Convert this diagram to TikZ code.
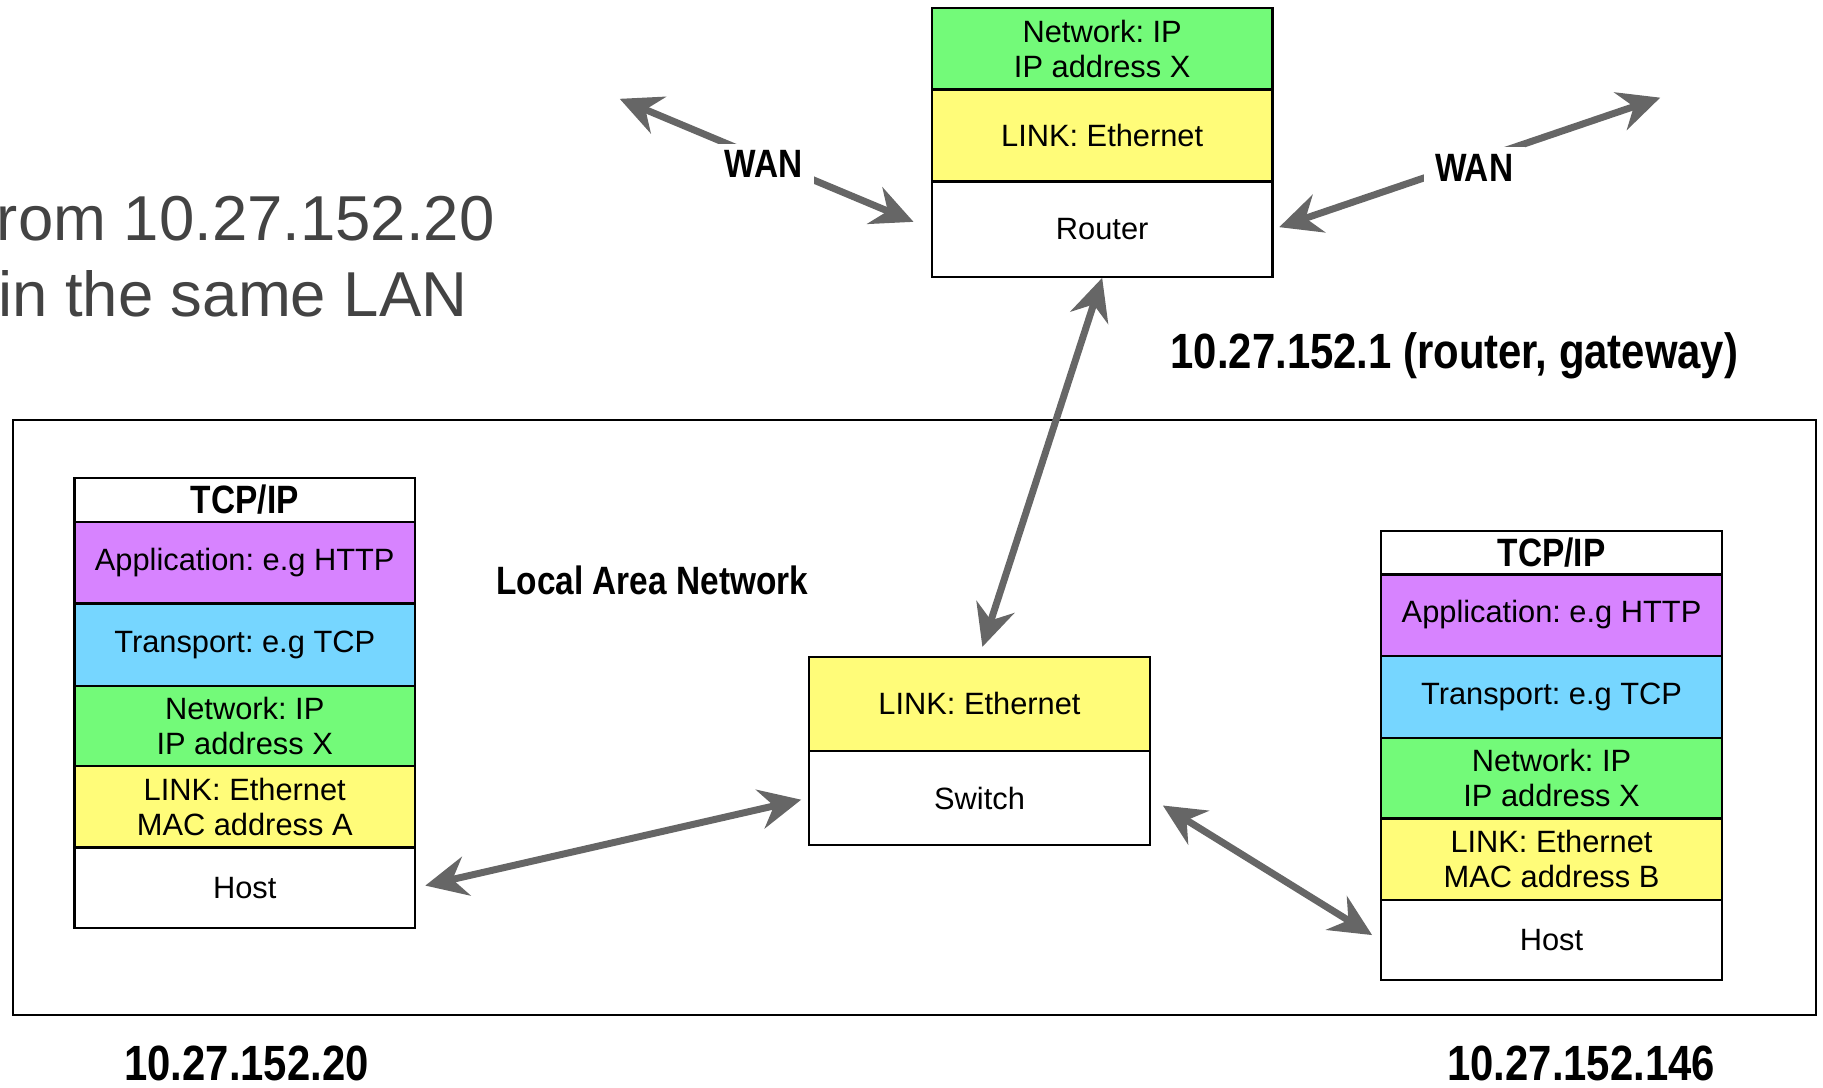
\documentclass[tikz,border=0pt]{standalone}
\usepackage{fontspec}
\setmainfont{Liberation Sans}
\newfontfamily\condfont[FakeStretch=0.845]{Liberation Sans}
\usetikzlibrary{arrows.meta}
\frenchspacing

\definecolor{appc}{HTML}{D783FF}
\definecolor{trc}{HTML}{76D6FF}
\definecolor{netc}{HTML}{73FA79}
\definecolor{linkc}{HTML}{FFFC79}
\definecolor{arrowgray}{HTML}{666666}
\definecolor{graytext}{HTML}{434343}

\tikzset{
  layer/.style={draw=black, line width=1pt, minimum width=146.5pt, inner sep=0pt,
    align=center, text=black, font=\fontsize{13.25}{15}\selectfont},
  lbl/.style={inner sep=0pt, anchor=base, text=black, font=\condfont\bfseries\fontsize{17}{20}\selectfont},
  iplbl/.style={inner sep=0pt, anchor=base, text=black, font=\condfont\bfseries\fontsize{21.3}{25}\selectfont},
  wanlbl/.style={fill=white, anchor=base, inner xsep=5pt, inner ysep=3pt, text=black,
    font=\condfont\bfseries\fontsize{17}{20}\selectfont},
  bigtext/.style={anchor=base west, inner sep=0pt, text=graytext, font=\fontsize{27.3}{32}\selectfont},
  conn/.style={draw=arrowgray, line width=3pt,
    {Stealth[length=18pt,width=17pt,inset=6pt]}-{Stealth[length=18pt,width=17pt,inset=6pt]}}
}

\begin{document}
\begin{tikzpicture}[x=0.5pt,y=-0.5pt]
\useasboundingbox (0,0) rectangle (1568,935);

% heading text at the left edge
\node[bigtext] (head1) at (-3,207) {rom 10.27.152.20};
\node[bigtext] (head2) at (-2,272) {in the same LAN};

% local area network frame
\node[draw=black, line width=0.75pt, minimum width=775.5pt, minimum height=256pt, inner sep=0pt] (lan) at (786.5,617) {};
\node[lbl] (lanlbl) at (561,511) {Local Area Network};

% router stack
\node[layer, fill=netc,  minimum height=35pt]   (rNet)  at (948,42)    {Network: IP\\IP address X};
\node[layer, fill=linkc, minimum height=39.5pt] (rLink) at (948,116.5) {LINK: Ethernet};
\node[layer,             minimum height=41pt]   (rHost) at (948,197)   {Router};
\node[iplbl] (rIP) at (1251,317) {10.27.152.1 (router, gateway)};

% switch stack
\node[layer, fill=linkc, minimum height=40.5pt] (sLink) at (842.5,605.5) {LINK: Ethernet};
\node[layer,             minimum height=40.5pt] (sHost) at (842.5,686.5) {Switch};

% host A stack
\node[layer, minimum height=19pt]               (aTcp)  at (210.5,430)   {\condfont\bfseries\fontsize{17}{20}\selectfont TCP/IP};
\node[layer, fill=appc,  minimum height=35pt]   (aApp)  at (210.5,484)   {Application: e.g HTTP};
\node[layer, fill=trc,   minimum height=35.5pt] (aTr)   at (210.5,554.5) {Transport: e.g TCP};
\node[layer, fill=netc,  minimum height=34.5pt] (aNet)  at (210.5,624.5) {Network: IP\\IP address X};
\node[layer, fill=linkc, minimum height=35pt]   (aLink) at (210.5,694)   {LINK: Ethernet\\MAC address A};
\node[layer,             minimum height=34.5pt] (aHost) at (210.5,763.5) {Host};
\node[iplbl] (aIP) at (212,929) {10.27.152.20};

% host B stack
\node[layer, minimum height=19pt]               (bTcp)  at (1334.5,475.5) {\condfont\bfseries\fontsize{17}{20}\selectfont TCP/IP};
\node[layer, fill=appc,  minimum height=35pt]   (bApp)  at (1334.5,529)   {Application: e.g HTTP};
\node[layer, fill=trc,   minimum height=35.5pt] (bTr)   at (1334.5,599.5) {Transport: e.g TCP};
\node[layer, fill=netc,  minimum height=34.5pt] (bNet)  at (1334.5,669.5) {Network: IP\\IP address X};
\node[layer, fill=linkc, minimum height=35pt]   (bLink) at (1334.5,739)   {LINK: Ethernet\\MAC address B};
\node[layer,             minimum height=34.5pt] (bHost) at (1334.5,808.5) {Host};
\node[iplbl] (bIP) at (1360,929) {10.27.152.146};

% free ends of the WAN links
\coordinate (wanW) at (533,85);
\coordinate (wanE) at (1428,84);

% connectors
\draw[conn, shorten >=8pt] (wanW) -- (rHost.west);
\draw[conn, shorten <=2.5pt] (rHost.east) -- (wanE);
\draw[conn, shorten >=4pt] (rHost.south) -- (sLink.north);
\draw[conn, shorten <=4pt, shorten >=3pt] (aHost.east) -- (sHost.west);
\draw[conn, shorten <=6pt, shorten >=4pt] (sHost.east) -- (bHost.west);

% WAN labels sitting on the links
\node[wanlbl] (wanWlbl) at (657,153) {WAN};
\node[wanlbl] (wanElbl) at (1268,156) {WAN};
\end{tikzpicture}
\end{document}
